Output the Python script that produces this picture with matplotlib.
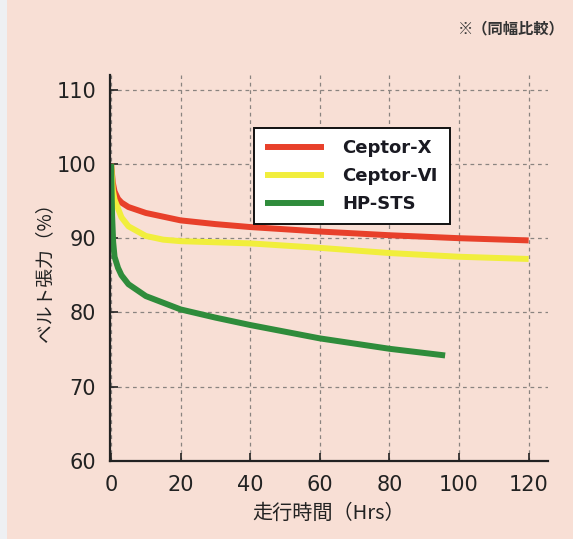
import matplotlib
matplotlib.use("Agg")
import matplotlib.pyplot as plt
from matplotlib.patches import Rectangle

plt.rcParams['font.family'] = ['Noto Sans CJK JP', 'DejaVu Sans']

# belt tension (%) vs running time (Hrs)
ceptor_x_hrs = [0, 0.5, 1, 2, 3, 5, 10, 20, 30, 40, 60, 80, 100, 120]
ceptor_x_val = [100, 97.5, 96.3, 95.3, 94.8, 94.2, 93.4, 92.4, 91.9, 91.5, 90.9, 90.4, 90.0, 89.7]

ceptor_6_hrs = [0, 0.5, 1, 2, 3, 5, 10, 15, 20, 40, 60, 80, 100, 120]
ceptor_6_val = [100, 96.5, 95.2, 94.0, 92.8, 91.6, 90.3, 89.8, 89.6, 89.3, 88.7, 88.0, 87.5, 87.2]

hp_sts_hrs = [0, 0.3, 0.6, 1, 2, 3, 5, 10, 20, 30, 40, 60, 80, 96]
hp_sts_val = [100, 93, 89.5, 87.5, 86.0, 85.0, 83.8, 82.2, 80.4, 79.3, 78.3, 76.5, 75.1, 74.2]

series_names = ['Ceptor-Ⅹ', 'Ceptor-Ⅵ', 'HP-STS']
series_colors = ['#e8402a', '#f1ee3c', '#2f8c3b']

x_ticks = [0, 20, 40, 60, 80, 100, 120]
y_ticks = [60, 70, 80, 90, 100, 110]

bg = '#f8dfd5'
fig = plt.figure(figsize=(5.73, 5.39), dpi=100, facecolor=bg)
# pale strip down the left edge of the scan
fig.patches.append(Rectangle((0, 0), 0.012, 1, transform=fig.transFigure,
                             facecolor='#eef0f3', edgecolor='none'))
ax = fig.add_axes([0.192, 0.145, 0.764, 0.716], facecolor=bg)

for xs, ys, name, col in zip([ceptor_x_hrs, ceptor_6_hrs, hp_sts_hrs],
                             [ceptor_x_val, ceptor_6_val, hp_sts_val],
                             series_names, series_colors):
    ax.plot(xs, ys, color=col, lw=4.3, label=name, solid_capstyle='butt')

ax.set_xlim(-0.3, 125.5)
ax.set_ylim(60, 112)
ax.set_xticks(x_ticks)
ax.set_yticks(y_ticks)
ax.grid(True, ls=(0, (3, 3)), color='#8a8480', lw=0.9)
ax.tick_params(direction='in', length=6, width=1.2, colors='#222222',
               labelsize=15, pad=10)
for lab in ax.get_xticklabels() + ax.get_yticklabels():
    lab.set_family('DejaVu Sans')
for s in ['top', 'right']:
    ax.spines[s].set_visible(False)
for s in ['left', 'bottom']:
    ax.spines[s].set_linewidth(1.6)
    ax.spines[s].set_color('#222222')

ax.set_xlabel('走行時間（Hrs）', fontsize=14.5, color='#222222', labelpad=6)
ax.set_ylabel('ベルト張力（%）', fontsize=13.5, color='#222222', labelpad=1)

leg = ax.legend(loc='upper center', bbox_to_anchor=(0.308, 0.65, 0.49, 0.235),
                mode='expand', fancybox=False, framealpha=1, edgecolor='#111111',
                facecolor='white', handlelength=3.3, handletextpad=1.0,
                labelspacing=0.55, borderpad=0.6,
                prop={'family': 'DejaVu Sans', 'size': 13, 'weight': 'bold'})
leg.get_frame().set_linewidth(1.4)
for t in leg.get_texts():
    t.set_color('#1a1a22')

fig.text(0.986, 0.948, '※（同幅比較）', ha='right', va='center',
         fontsize=11, weight='bold', color='#333333')

fig.savefig('out.png', dpi=100, facecolor=bg)
